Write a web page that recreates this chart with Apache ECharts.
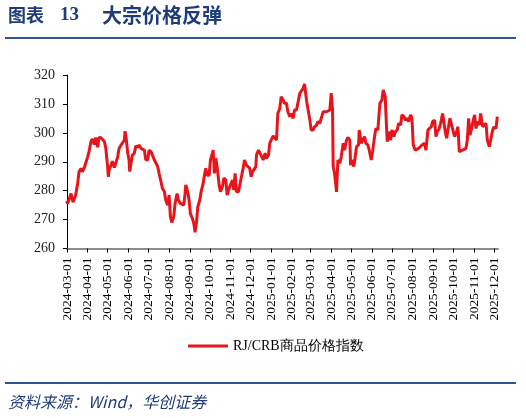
<!DOCTYPE html>
<html>
<head>
<meta charset="utf-8">
<script src="https://cdn.jsdelivr.net/npm/echarts@6/dist/echarts.min.js"></script>
<style>
  html, body { margin: 0; padding: 0; background: #fff; }
  #main { width: 526px; height: 418px; }
</style>
</head>
<body>
<div id="main"></div>
<script>
// month-start ticks on the x axis
const monthTicks = [
  '2024-03-01', '2024-04-01', '2024-05-01', '2024-06-01', '2024-07-01', '2024-08-01',
  '2024-09-01', '2024-10-01', '2024-11-01', '2024-12-01', '2025-01-01', '2025-02-01',
  '2025-03-01', '2025-04-01', '2025-05-01', '2025-06-01', '2025-07-01', '2025-08-01',
  '2025-09-01', '2025-10-01', '2025-11-01', '2025-12-01'
];
const yTicks = [260, 270, 280, 290, 300, 310, 320];
const seriesName = 'RJ/CRB商品价格指数';

// RJ/CRB index
const dates = [
  '2024-03-01', '2024-03-02', '2024-03-07', '2024-03-10', '2024-03-14', '2024-03-17', '2024-03-19', '2024-03-22',
  '2024-03-24', '2024-03-27', '2024-03-29', '2024-04-01', '2024-04-03', '2024-04-06', '2024-04-08', '2024-04-11',
  '2024-04-13', '2024-04-16', '2024-04-18', '2024-04-21', '2024-04-23', '2024-04-26', '2024-04-28', '2024-05-01',
  '2024-05-02', '2024-05-03', '2024-05-06', '2024-05-08', '2024-05-11', '2024-05-13', '2024-05-16', '2024-05-18',
  '2024-05-21', '2024-05-23', '2024-05-26', '2024-05-27', '2024-05-29', '2024-05-31', '2024-06-02', '2024-06-03',
  '2024-06-05', '2024-06-07', '2024-06-10', '2024-06-12', '2024-06-15', '2024-06-17', '2024-06-20', '2024-06-22',
  '2024-06-25', '2024-06-27', '2024-06-30', '2024-07-02', '2024-07-05', '2024-07-07', '2024-07-10', '2024-07-12',
  '2024-07-15', '2024-07-17', '2024-07-20', '2024-07-22', '2024-07-25', '2024-07-27', '2024-07-30', '2024-08-01',
  '2024-08-03', '2024-08-05', '2024-08-08', '2024-08-10', '2024-08-13', '2024-08-15', '2024-08-18', '2024-08-20',
  '2024-08-23', '2024-08-25', '2024-08-26', '2024-08-29', '2024-08-31', '2024-09-02', '2024-09-05', '2024-09-07',
  '2024-09-09', '2024-09-11', '2024-09-13', '2024-09-16', '2024-09-18', '2024-09-21', '2024-09-23', '2024-09-25',
  '2024-09-27', '2024-09-30', '2024-10-02', '2024-10-05', '2024-10-06', '2024-10-08', '2024-10-10', '2024-10-12',
  '2024-10-15', '2024-10-17', '2024-10-20', '2024-10-22', '2024-10-25', '2024-10-27', '2024-10-30', '2024-11-01',
  '2024-11-04', '2024-11-06', '2024-11-08', '2024-11-10', '2024-11-13', '2024-11-15', '2024-11-17', '2024-11-20',
  '2024-11-22', '2024-11-25', '2024-11-27', '2024-11-30', '2024-12-02', '2024-12-04', '2024-12-06', '2024-12-09',
  '2024-12-10', '2024-12-13', '2024-12-15', '2024-12-18', '2024-12-20', '2024-12-23', '2024-12-25', '2024-12-28',
  '2024-12-30', '2025-01-01', '2025-01-04', '2025-01-06', '2025-01-09', '2025-01-11', '2025-01-14', '2025-01-16',
  '2025-01-19', '2025-01-21', '2025-01-24', '2025-01-26', '2025-01-29', '2025-01-31', '2025-02-03', '2025-02-05',
  '2025-02-08', '2025-02-10', '2025-02-13', '2025-02-15', '2025-02-18', '2025-02-20', '2025-02-23', '2025-02-25',
  '2025-02-28', '2025-03-02', '2025-03-05', '2025-03-07', '2025-03-10', '2025-03-12', '2025-03-15', '2025-03-17',
  '2025-03-20', '2025-03-22', '2025-03-25', '2025-03-27', '2025-03-30', '2025-04-01', '2025-04-03', '2025-04-04',
  '2025-04-06', '2025-04-09', '2025-04-11', '2025-04-14', '2025-04-16', '2025-04-19', '2025-04-21', '2025-04-24',
  '2025-04-26', '2025-04-29', '2025-04-30', '2025-05-02', '2025-05-05', '2025-05-07', '2025-05-09', '2025-05-12',
  '2025-05-13', '2025-05-16', '2025-05-18', '2025-05-21', '2025-05-23', '2025-05-26', '2025-05-28', '2025-05-31',
  '2025-06-02', '2025-06-05', '2025-06-07', '2025-06-10', '2025-06-11', '2025-06-13', '2025-06-16', '2025-06-18',
  '2025-06-21', '2025-06-22', '2025-06-24', '2025-06-26', '2025-06-29', '2025-07-01', '2025-07-04', '2025-07-06',
  '2025-07-09', '2025-07-11', '2025-07-14', '2025-07-16', '2025-07-19', '2025-07-21', '2025-07-24', '2025-07-26',
  '2025-07-29', '2025-07-31', '2025-08-02', '2025-08-05', '2025-08-07', '2025-08-10', '2025-08-12', '2025-08-15',
  '2025-08-17', '2025-08-19', '2025-08-21', '2025-08-24', '2025-08-26', '2025-08-29', '2025-08-31', '2025-09-03',
  '2025-09-05', '2025-09-07', '2025-09-10', '2025-09-12', '2025-09-15', '2025-09-17', '2025-09-19', '2025-09-21',
  '2025-09-23', '2025-09-26', '2025-09-28', '2025-10-01', '2025-10-03', '2025-10-06', '2025-10-08', '2025-10-10',
  '2025-10-12', '2025-10-15', '2025-10-17', '2025-10-20', '2025-10-22', '2025-10-24', '2025-10-26', '2025-10-28',
  '2025-10-31', '2025-11-02', '2025-11-04', '2025-11-06', '2025-11-09', '2025-11-11', '2025-11-14', '2025-11-16',
  '2025-11-19', '2025-11-21', '2025-11-24', '2025-11-26', '2025-11-29', '2025-12-01', '2025-12-04', '2025-12-06'
];
const values = [
  276.5, 275.5, 279.0, 276.0, 278.5, 282.5, 286.5, 287.7,
  286.5, 288.0, 289.5, 291.7, 293.5, 297.0, 297.9, 296.0,
  298.4, 295.0, 298.4, 298.3, 298.0, 297.0, 295.0, 288.0,
  284.8, 287.0, 288.8, 290.2, 288.0, 287.7, 291.7, 294.6,
  295.8, 296.0, 297.5, 300.6, 297.5, 293.0, 290.6, 286.6,
  289.5, 292.3, 293.0, 295.4, 295.0, 295.8, 294.6, 295.0,
  294.0, 290.8, 290.6, 294.0, 293.5, 292.3, 290.6, 290.6,
  288.3, 286.0, 283.0, 280.8, 279.6, 276.7, 275.0, 278.5,
  271.0, 269.0, 271.0, 275.6, 279.0, 276.7, 275.6, 276.2,
  275.0, 279.0, 282.0, 279.6, 276.7, 272.0, 270.4, 268.7,
  265.6, 268.7, 274.4, 276.7, 279.6, 282.4, 285.3, 287.7,
  285.3, 285.3, 290.6, 293.0, 294.0, 286.0, 291.2, 288.3,
  282.0, 279.6, 281.4, 284.3, 283.7, 278.5, 280.8, 281.4,
  283.7, 280.2, 286.0, 279.6, 279.6, 280.2, 284.3, 287.7,
  290.6, 288.8, 288.3, 287.7, 284.8, 286.5, 286.5, 288.3,
  292.3, 294.0, 294.0, 291.7, 290.6, 293.0, 291.2, 292.3,
  296.4, 297.5, 298.9, 299.2, 297.5, 306.7, 308.5, 312.5,
  311.3, 310.2, 310.2, 307.3, 305.6, 306.7, 305.0, 307.9,
  307.9, 310.2, 313.7, 313.7, 315.4, 316.9, 311.3, 308.5,
  304.4, 301.0, 301.0, 302.1, 302.7, 303.9, 303.3, 305.0,
  307.3, 307.0, 307.3, 307.3, 307.9, 313.7, 307.9, 288.3,
  286.0, 279.6, 290.6, 289.5, 291.7, 296.4, 294.0, 297.5,
  298.4, 297.5, 288.8, 290.6, 288.3, 291.7, 295.2, 295.8,
  301.0, 296.4, 296.9, 298.7, 296.4, 295.8, 294.0, 290.6,
  293.5, 298.7, 301.5, 301.0, 304.4, 310.2, 311.3, 314.8,
  312.5, 306.7, 296.9, 300.4, 297.5, 301.0, 298.7, 300.4,
  301.0, 303.3, 302.7, 306.2, 305.6, 304.4, 305.0, 303.9,
  306.2, 305.0, 295.8, 294.0, 293.5, 294.6, 295.2, 295.8,
  295.8, 296.4, 294.0, 301.0, 301.5, 302.1, 303.9, 304.4,
  298.7, 300.4, 301.5, 303.3, 306.7, 307.3, 300.4, 298.1,
  301.0, 305.0, 304.4, 300.4, 298.7, 300.4, 302.1, 293.5,
  293.5, 294.0, 293.5, 294.6, 297.5, 305.0, 299.2, 301.0,
  304.4, 306.2, 301.5, 303.9, 302.7, 306.7, 302.1, 302.1,
  303.3, 297.5, 295.2, 294.6, 301.0, 302.1, 301.5, 305.6
];

const toTime = d => echarts.time.parse(d).getTime();

const chart = echarts.init(document.getElementById('main'), null, { renderer: 'canvas' });

const navy = '#1d3c78';
const serif = '"Liberation Serif", "Times New Roman", serif';
const cjk = '"Noto Sans CJK SC", sans-serif';
const tickTimes = monthTicks.map(toTime);

const option = {
  animation: false,
  backgroundColor: '#fff',
  graphic: [
    { type: 'text', left: 8, top: 6, style: { text: '图表', font: 'bold 18px ' + cjk, fill: navy } },
    { type: 'text', left: 60, top: 6, style: { text: '13', font: 'bold 19px ' + serif, fill: navy } },
    { type: 'text', left: 102, top: 5, style: { text: '大宗价格反弹', font: 'bold 20px ' + cjk, fill: navy } },
    { type: 'line', shape: { x1: 5, y1: 38, x2: 516, y2: 38 }, style: { stroke: '#2f5597', lineWidth: 2 } },
    { type: 'line', shape: { x1: 5, y1: 383, x2: 516, y2: 383 }, style: { stroke: '#2f5597', lineWidth: 2 } },
    { type: 'text', left: 8, top: 394, style: { text: '资料来源：Wind，华创证券', font: 'italic 16px ' + cjk, fill: navy } }
  ],
  legend: {
    data: [seriesName],
    icon: 'rect',
    left: 183,
    top: 334,
    itemWidth: 40,
    itemHeight: 3,
    itemGap: 4,
    textStyle: { fontFamily: serif, fontSize: 14, color: '#000' }
  },
  grid: { left: 67, right: 28, top: 75, bottom: 169.5, containLabel: false },
  xAxis: {
    type: 'value',
    min: toTime('2024-03-01'),
    max: toTime('2025-12-07'),
    splitLine: { show: false },
    axisLine: { lineStyle: { color: '#8c8c8c', width: 2 } },
    axisTick: {
      show: true,
      length: 4,
      lineStyle: { color: '#000' },
      customValues: tickTimes
    },
    axisLabel: {
      rotate: 90,
      margin: 9,
      fontFamily: serif,
      fontSize: 13.5,
      color: '#000',
      customValues: tickTimes,
      formatter: v => echarts.time.format(v, '{yyyy}-{MM}-{dd}', false)
    }
  },
  yAxis: {
    type: 'value',
    min: 260,
    max: 320,
    interval: 10,
    splitLine: { show: false },
    axisLine: { show: true, lineStyle: { color: '#000', width: 1 } },
    axisTick: { show: true, length: 4, lineStyle: { color: '#000' } },
    axisLabel: {
      margin: 12,
      fontFamily: serif,
      fontSize: 14,
      color: '#222',
      customValues: yTicks
    }
  },
  series: [{
    name: seriesName,
    type: 'line',
    symbol: 'none',
    data: dates.map((d, i) => [toTime(d), values[i]]),
    lineStyle: { color: '#e8141c', width: 3 },
    itemStyle: { color: '#e8141c' }
  }]
};

chart.setOption(option);
</script>
</body>
</html>
